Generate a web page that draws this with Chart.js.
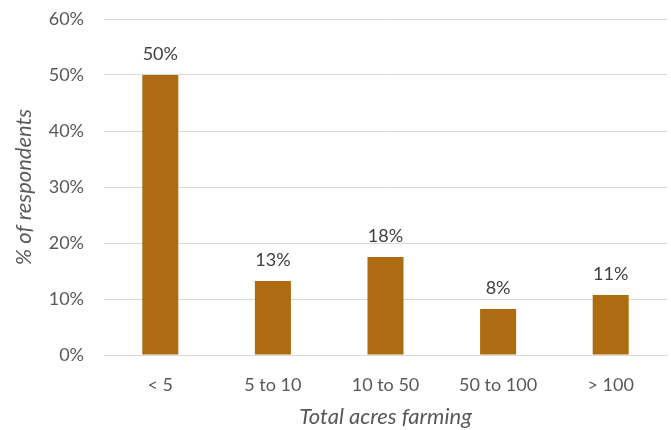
<!DOCTYPE html>
<html>
<head>
<meta charset="utf-8">
<script src="https://cdn.jsdelivr.net/npm/chart.js@4/dist/chart.umd.min.js"></script>
<style>
  html, body { margin: 0; padding: 0; background: #fff; }
  #wrap { width: 671px; height: 430px; }
</style>
</head>
<body>
<div id="wrap"><canvas id="acres"></canvas></div>
<script>
const categories = ['< 5', '5 to 10', '10 to 50', '50 to 100', '> 100'];
const respondents = [50, 13.2, 17.5, 8.2, 10.7];
const yTicks = [0, 10, 20, 30, 40, 50, 60];

const FONT = 'Lato, "Open Sans", sans-serif';
const barColor = '#AE6C12';

// draws the value above each bar
const barLabels = {
  id: 'barLabels',
  afterDatasetsDraw(chart) {
    const ctx = chart.ctx;
    const meta = chart.getDatasetMeta(0);
    ctx.save();
    ctx.font = '18px ' + FONT;
    ctx.fillStyle = '#404040';
    ctx.textAlign = 'center';
    ctx.textBaseline = 'alphabetic';
    meta.data.forEach(function(bar, i) {
      ctx.fillText(Math.round(respondents[i]) + '%', bar.x, bar.y - 15);
    });
    ctx.restore();
  }
};

new Chart(document.getElementById('acres'), {
  type: 'bar',
  data: {
    labels: categories,
    datasets: [{
      data: respondents,
      backgroundColor: barColor,
      borderWidth: 0,
      categoryPercentage: 1.0,
      barPercentage: 0.32
    }]
  },
  options: {
    responsive: true,
    maintainAspectRatio: false,
    animation: false,
    layout: { padding: { left: 0, right: 4, top: 0, bottom: 0 } },
    plugins: {
      legend: { display: false },
      tooltip: { enabled: false }
    },
    scales: {
      x: {
        grid: { display: false, drawTicks: false },
        border: { display: true, color: '#d9d9d9', width: 1 },
        ticks: { color: '#595959', font: { family: FONT, size: 18 }, padding: 19 },
        title: {
          display: true,
          text: 'Total acres farming',
          color: '#595959',
          font: { family: FONT, size: 22, style: 'italic' },
          padding: { top: 11, bottom: 0 }
        },
        afterFit(scale) { scale.height = 75; }
      },
      y: {
        min: 0,
        max: 60,
        afterBuildTicks(scale) { scale.ticks = yTicks.map(v => ({ value: v })); },
        grid: { color: '#d9d9d9', lineWidth: 1, drawTicks: false },
        border: { display: false },
        ticks: {
          color: '#595959',
          font: { family: FONT, size: 18 },
          padding: 20,
          callback: v => v + '%'
        },
        title: {
          display: true,
          text: '% of respondents',
          color: '#595959',
          font: { family: FONT, size: 22, style: 'italic' },
          padding: { top: 11, bottom: 0 }
        },
        afterFit(scale) {
          scale.width = 104;
          scale.paddingTop = 19;
        }
      }
    }
  },
  plugins: [barLabels]
});
</script>
</body>
</html>
